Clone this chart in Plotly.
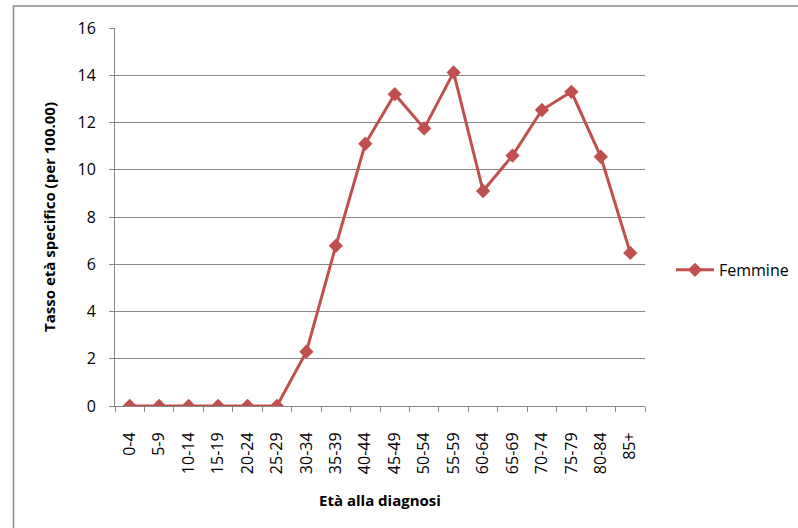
import plotly.graph_objects as go

categories = ["0-4", "5-9", "10-14", "15-19", "20-24", "25-29", "30-34", "35-39",
              "40-44", "45-49", "50-54", "55-59", "60-64", "65-69", "70-74",
              "75-79", "80-84", "85+"]
femmine = [0, 0, 0, 0, 0, 0, 2.3, 6.78, 11.1, 13.2, 11.75, 14.12, 9.1, 10.6,
           12.53, 13.3, 10.55, 6.48]
y_ticks = [0, 2, 4, 6, 8, 10, 12, 14, 16]

RED = "#C0504D"
GRID = "#878787"
FONT = "Open Sans"

fig = go.Figure()
fig.add_trace(go.Scatter(
    x=categories, y=femmine, name="Femmine", mode="lines+markers",
    line=dict(color=RED, width=3),
    marker=dict(symbol="diamond", size=11, color=RED),
))

fig.update_layout(
    width=798, height=528,
    margin=dict(l=115, r=153, t=28, b=122, autoexpand=False),
    paper_bgcolor="white", plot_bgcolor="white",
    font=dict(family=FONT, size=16, color="#000000"),
    showlegend=True,
    legend=dict(x=1.049, y=0.36, xanchor="left", yanchor="middle", itemwidth=38,
                font=dict(family=FONT, size=16), bgcolor="rgba(0,0,0,0)"),
    xaxis=dict(
        type="category", categoryorder="array", categoryarray=categories,
        tickangle=-90, showgrid=False, showline=True, linecolor=GRID, linewidth=1,
        ticks="outside", ticklen=5, tickcolor=GRID, tickson="boundaries",
        ticklabelstandoff=19, automargin=False,
        tickfont=dict(family=FONT, size=16),
        title=dict(text="<b>Età alla diagnosi</b>", font=dict(family=FONT, size=15), standoff=22),
        range=[-0.5, len(categories) - 0.5],
    ),
    yaxis=dict(
        range=[0, 16], tickvals=y_ticks, showgrid=True, gridcolor=GRID, gridwidth=1,
        showline=True, linecolor=GRID, linewidth=1, zeroline=False,
        ticks="outside", ticklen=5, tickcolor=GRID, ticklabelstandoff=10,
        automargin=False,
        tickfont=dict(family=FONT, size=16),
        title=dict(text="<b>Tasso età specifico (per 100.00)</b>", font=dict(family=FONT, size=15), standoff=18),
    ),
    shapes=[dict(type="rect", xref="paper", yref="paper",
                 x0=(13.5 - 115) / 530, x1=1 + 170 / 530,
                 y0=-140 / 378, y1=1 + 22 / 378,
                 line=dict(color="#8a8a8a", width=1.5), layer="below")],
)

fig.write_html("out.html", config={"displayModeBar": False},
               post_script="document.body.style.margin='0';")
